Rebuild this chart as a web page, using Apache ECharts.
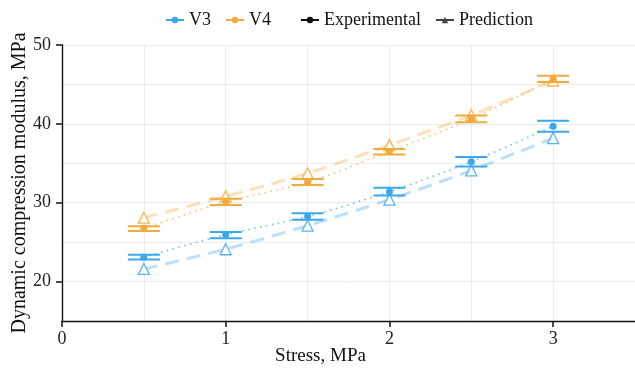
<!DOCTYPE html>
<html>
<head>
<meta charset="utf-8">
<script src="https://cdn.jsdelivr.net/npm/echarts@6/dist/echarts.min.js"></script>
<style>
  html, body { margin: 0; padding: 0; background: #fff; }
  #chart { width: 635px; height: 372px; }
</style>
</head>
<body>
<div id="chart"></div>
<script>
const stress = [0.5, 1, 1.5, 2, 2.5, 3]

const v3Exp = [23.1, 25.95, 28.25, 31.4, 35.2, 39.7]
const v3Low = [22.8, 25.5, 27.85, 30.9, 34.6, 39.0]
const v3High = [23.4, 26.3, 28.65, 31.9, 35.8, 40.4]
const v3Pred = [21.6, 24.1, 27.1, 30.4, 34.1, 38.2]

const v4Exp = [26.75, 30.1, 32.6, 36.5, 40.6, 45.7]
const v4Low = [26.4, 29.7, 32.25, 36.1, 40.2, 45.3]
const v4High = [27.0, 30.5, 33.0, 36.8, 41.05, 46.1]
const v4Pred = [28.1, 30.8, 33.75, 37.3, 41.1, 45.5]

const xTicks = [0, 1, 2, 3]
const yTicks = [20, 30, 40, 50]

const BLUE = '#3aa8ec'
const ORANGE = '#f4a93a'
const FONT = 'Liberation Serif'

const pairs = (ys) => stress.map((s, i) => [s, ys[i]])

// error bar caps only (no stem, like the reference)
const errorBars = (name, low, high, color) => ({
  name,
  type: 'custom',
  z: 2,
  data: stress.map((s, i) => [s, low[i], high[i]]),
  renderItem: (params, api) => {
    const lo = api.coord([api.value(0), api.value(1)])
    const hi = api.coord([api.value(0), api.value(2)])
    const hw = 16
    return {
      type: 'group',
      children: [
        { type: 'line', shape: { x1: lo[0] - hw, y1: lo[1], x2: lo[0] + hw, y2: lo[1] }, style: { stroke: color, lineWidth: 2 } },
        { type: 'line', shape: { x1: hi[0] - hw, y1: hi[1], x2: hi[0] + hw, y2: hi[1] }, style: { stroke: color, lineWidth: 2 } }
      ]
    }
  }
})

const expLine = (name, ys, color) => ({
  name,
  type: 'line',
  z: 3,
  data: pairs(ys),
  smooth: 0.3,
  symbol: 'circle',
  symbolSize: 7,
  itemStyle: { color },
  lineStyle: { color, width: 1.6, type: [1.5, 4.5], opacity: 0.75 }
})

const predLine = (name, ys, color) => ({
  name,
  type: 'line',
  z: 1,
  data: pairs(ys),
  smooth: 0.3,
  symbol: 'triangle',
  symbolSize: 11,
  itemStyle: { color: '#fff', borderColor: color, borderWidth: 1.3, opacity: 0.85 },
  lineStyle: { color, width: 3, type: [14, 8], opacity: 0.35 }
})

// legend-only entries
const legendOnly = (name, color, symbol) => ({
  name, type: 'line', data: [], symbol, symbolSize: 6,
  itemStyle: { color }, lineStyle: { color, width: 2 }
})

const legendText = { fontFamily: FONT, fontSize: 18, color: '#111' }

const option = {
  animation: false,
  grid: { left: 62, right: 0, top: 45, bottom: 51, outerBoundsMode: 'none' },
  legend: [
    { data: ['V3', 'V4'], left: 160, top: 6, itemWidth: 18, itemHeight: 8, itemGap: 14, textStyle: legendText },
    { data: ['Experimental', 'Prediction'], left: 295, top: 6, itemWidth: 18, itemHeight: 8, itemGap: 14, textStyle: legendText }
  ],
  xAxis: [
    {
      type: 'value', min: 0, max: 3.5,
      name: 'Stress, MPa', nameLocation: 'middle', nameGap: 26, nameMoveOverlap: false,
      nameTextStyle: { fontFamily: FONT, fontSize: 19, color: '#111', padding: [0, 56, 0, 0] },
      axisLine: { onZero: false, lineStyle: { color: '#111', width: 1.4 } },
      axisTick: { show: true, inside: false, length: 6, customValues: xTicks, lineStyle: { color: '#111', width: 1.5 } },
      axisLabel: { customValues: xTicks, fontFamily: FONT, fontSize: 18, color: '#222', margin: 9 },
      splitLine: { show: false }
    },
    {
      type: 'value', min: 0, max: 3.5, interval: 0.5, position: 'top',
      axisLine: { show: false }, axisTick: { show: false }, axisLabel: { show: false },
      splitLine: { show: true, lineStyle: { color: '#ececec', width: 1 } }
    }
  ],
  yAxis: [
    {
      type: 'value', min: 15, max: 50,
      name: 'Dynamic compression modulus, MPa', nameLocation: 'middle', nameGap: 32, nameMoveOverlap: false,
      nameTextStyle: { fontFamily: FONT, fontSize: 20, color: '#111' },
      axisLine: { show: true, onZero: false, lineStyle: { color: '#111', width: 1.4 } },
      axisTick: { show: true, inside: false, length: 6, customValues: yTicks, lineStyle: { color: '#111', width: 1.5 } },
      axisLabel: { customValues: yTicks, fontFamily: FONT, fontSize: 18, color: '#222', margin: 11 },
      splitLine: { show: false }
    },
    {
      type: 'value', min: 15, max: 50, interval: 5, position: 'right',
      axisLine: { show: false }, axisTick: { show: false }, axisLabel: { show: false },
      splitLine: { show: true, lineStyle: { color: '#ececec', width: 1 } }
    }
  ],
  series: [
    legendOnly('V3', BLUE, 'circle'),
    legendOnly('V4', ORANGE, 'circle'),
    legendOnly('Experimental', '#111', 'circle'),
    legendOnly('Prediction', '#444', 'triangle'),
    predLine('V3 prediction', v3Pred, BLUE),
    predLine('V4 prediction', v4Pred, ORANGE),
    errorBars('V3 error', v3Low, v3High, BLUE),
    errorBars('V4 error', v4Low, v4High, ORANGE),
    expLine('V3 experimental', v3Exp, BLUE),
    expLine('V4 experimental', v4Exp, ORANGE)
  ]
}

const chart = echarts.init(document.getElementById('chart'))
chart.setOption(option)
window.addEventListener('resize', () => chart.resize())
</script>
</body>
</html>
